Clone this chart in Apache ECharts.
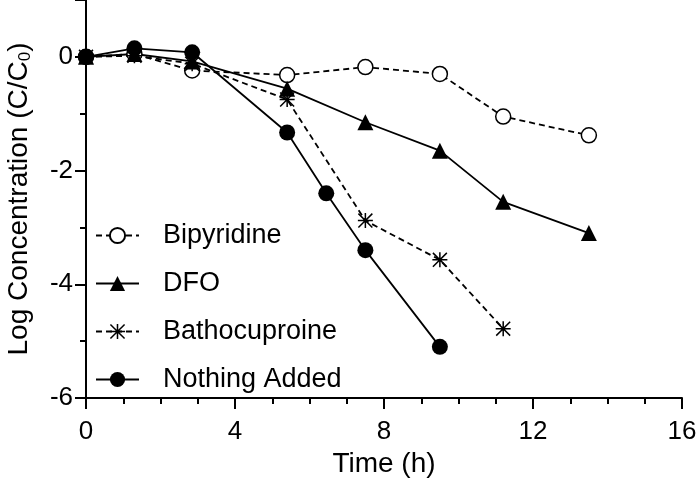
<!DOCTYPE html>
<html><head><meta charset="utf-8">
<script src="https://cdn.jsdelivr.net/npm/echarts@6/dist/echarts.min.js"></script>
<style>html,body{margin:0;padding:0;background:#fff}#c{width:700px;height:493px}</style>
</head><body><div id="c"></div>
<script>
var seriesNames = ['Bipyridine', 'DFO', 'Bathocuproine', 'Nothing Added'];
var bipyTime = [0, 1.3, 2.85, 5.4, 7.5, 9.5, 11.2, 13.5];
var bipyVals = [0, 0.05, -0.24, -0.32, -0.18, -0.3, -1.05, -1.38];
var dfoTime = [0, 1.3, 2.85, 5.4, 7.5, 9.5, 11.2, 13.5];
var dfoVals = [0, 0.05, -0.08, -0.56, -1.15, -1.65, -2.55, -3.1];
var bathoTime = [0, 1.3, 2.85, 5.4, 7.5, 9.5, 11.2];
var bathoVals = [0, 0.02, -0.12, -0.75, -2.88, -3.57, -4.78];
var noneTime = [0, 1.3, 2.85, 5.4, 6.45, 7.5, 9.5];
var noneVals = [0, 0.15, 0.08, -1.33, -2.4, -3.4, -5.1];
var xTicks = [0, 4, 8, 12, 16];
var yTicks = [-6, -4, -2, 0];

function pairs(t, v) { return t.map(function (x, i) { return [x, v[i]]; }); }
var asterisk = 'path://M0 9L20 9L20 11L0 11Z M9 0L11 0L11 20L9 20Z M1.4 0L20 18.6L18.6 20L0 1.4Z M18.6 0L20 1.4L1.4 20L0 18.6Z';
var font = 'Liberation Sans';
var chart = echarts.init(document.getElementById('c'), null, {renderer: 'canvas'});
chart.setOption({
  animation: false,
  backgroundColor: '#fff',
  grid: {left: 86, right: 18, top: 0, bottom: 95, containLabel: false, outerBoundsMode: 'none'},
  xAxis: {
    type: 'value', min: 0, max: 16, interval: 4,
    name: 'Time (h)', nameLocation: 'middle', nameGap: 51,
    nameTextStyle: {fontFamily: font, fontSize: 28, color: '#000'},
    axisLine: {onZero: false, lineStyle: {color: '#000', width: 2}},
    axisTick: {length: 11, lineStyle: {color: '#000', width: 2}},
    minorTick: {show: true, splitNumber: 4, length: 6, lineStyle: {color: '#000', width: 2}},
    axisLabel: {fontFamily: font, fontSize: 26, color: '#000', margin: 21,
      formatter: function (v) { return xTicks.indexOf(v) >= 0 ? String(v) : ''; }},
    splitLine: {show: false}
  },
  yAxis: {
    type: 'value', min: -6, max: 1, interval: 2,
    name: 'Log Concentration (C/C{sub|0})', nameLocation: 'middle', nameGap: 52,
    nameTextStyle: {fontFamily: font, fontSize: 28, color: '#000',
      rich: {sub: {fontFamily: font, fontSize: 17, color: '#000', verticalAlign: 'bottom', padding: [12, 0, 0, 0]}}},
    axisLine: {onZero: false, lineStyle: {color: '#000', width: 2}},
    axisTick: {length: 11, lineStyle: {color: '#000', width: 2}},
    minorTick: {show: true, splitNumber: 2, length: 6, lineStyle: {color: '#000', width: 2}},
    axisLabel: {fontFamily: font, fontSize: 26, color: '#000', margin: 13,
      formatter: function (v) { return yTicks.indexOf(v) >= 0 ? String(v) : ''; }},
    splitLine: {show: false}
  },
  legend: {
    orient: 'vertical', left: 90, top: 217,
    itemWidth: 43, itemHeight: 19, itemGap: 21,
    textStyle: {fontFamily: font, fontSize: 27, color: '#000', padding: [0, 0, 0, 19]},
    data: seriesNames
  },
  series: [
    {name: seriesNames[0], type: 'line', data: pairs(bipyTime, bipyVals), symbol: 'circle', symbolSize: 15,
     itemStyle: {color: '#fff', borderColor: '#000', borderWidth: 1.5},
     lineStyle: {color: '#000', width: 1.8, type: [6, 4]}},
    {name: seriesNames[1], type: 'line', data: pairs(dfoTime, dfoVals), symbol: 'triangle', symbolSize: 16,
     itemStyle: {color: '#000', borderColor: '#000', borderWidth: 0},
     lineStyle: {color: '#000', width: 1.8, type: 'solid'}},
    {name: seriesNames[2], type: 'line', data: pairs(bathoTime, bathoVals), symbol: asterisk, symbolSize: 15,
     itemStyle: {color: '#000', borderWidth: 0},
     lineStyle: {color: '#000', width: 1.8, type: [6, 4]}},
    {name: seriesNames[3], type: 'line', data: pairs(noneTime, noneVals), symbol: 'circle', symbolSize: 16,
     itemStyle: {color: '#000', borderColor: '#000', borderWidth: 0},
     lineStyle: {color: '#000', width: 1.8, type: 'solid'}}
  ]
});
</script></body></html>
